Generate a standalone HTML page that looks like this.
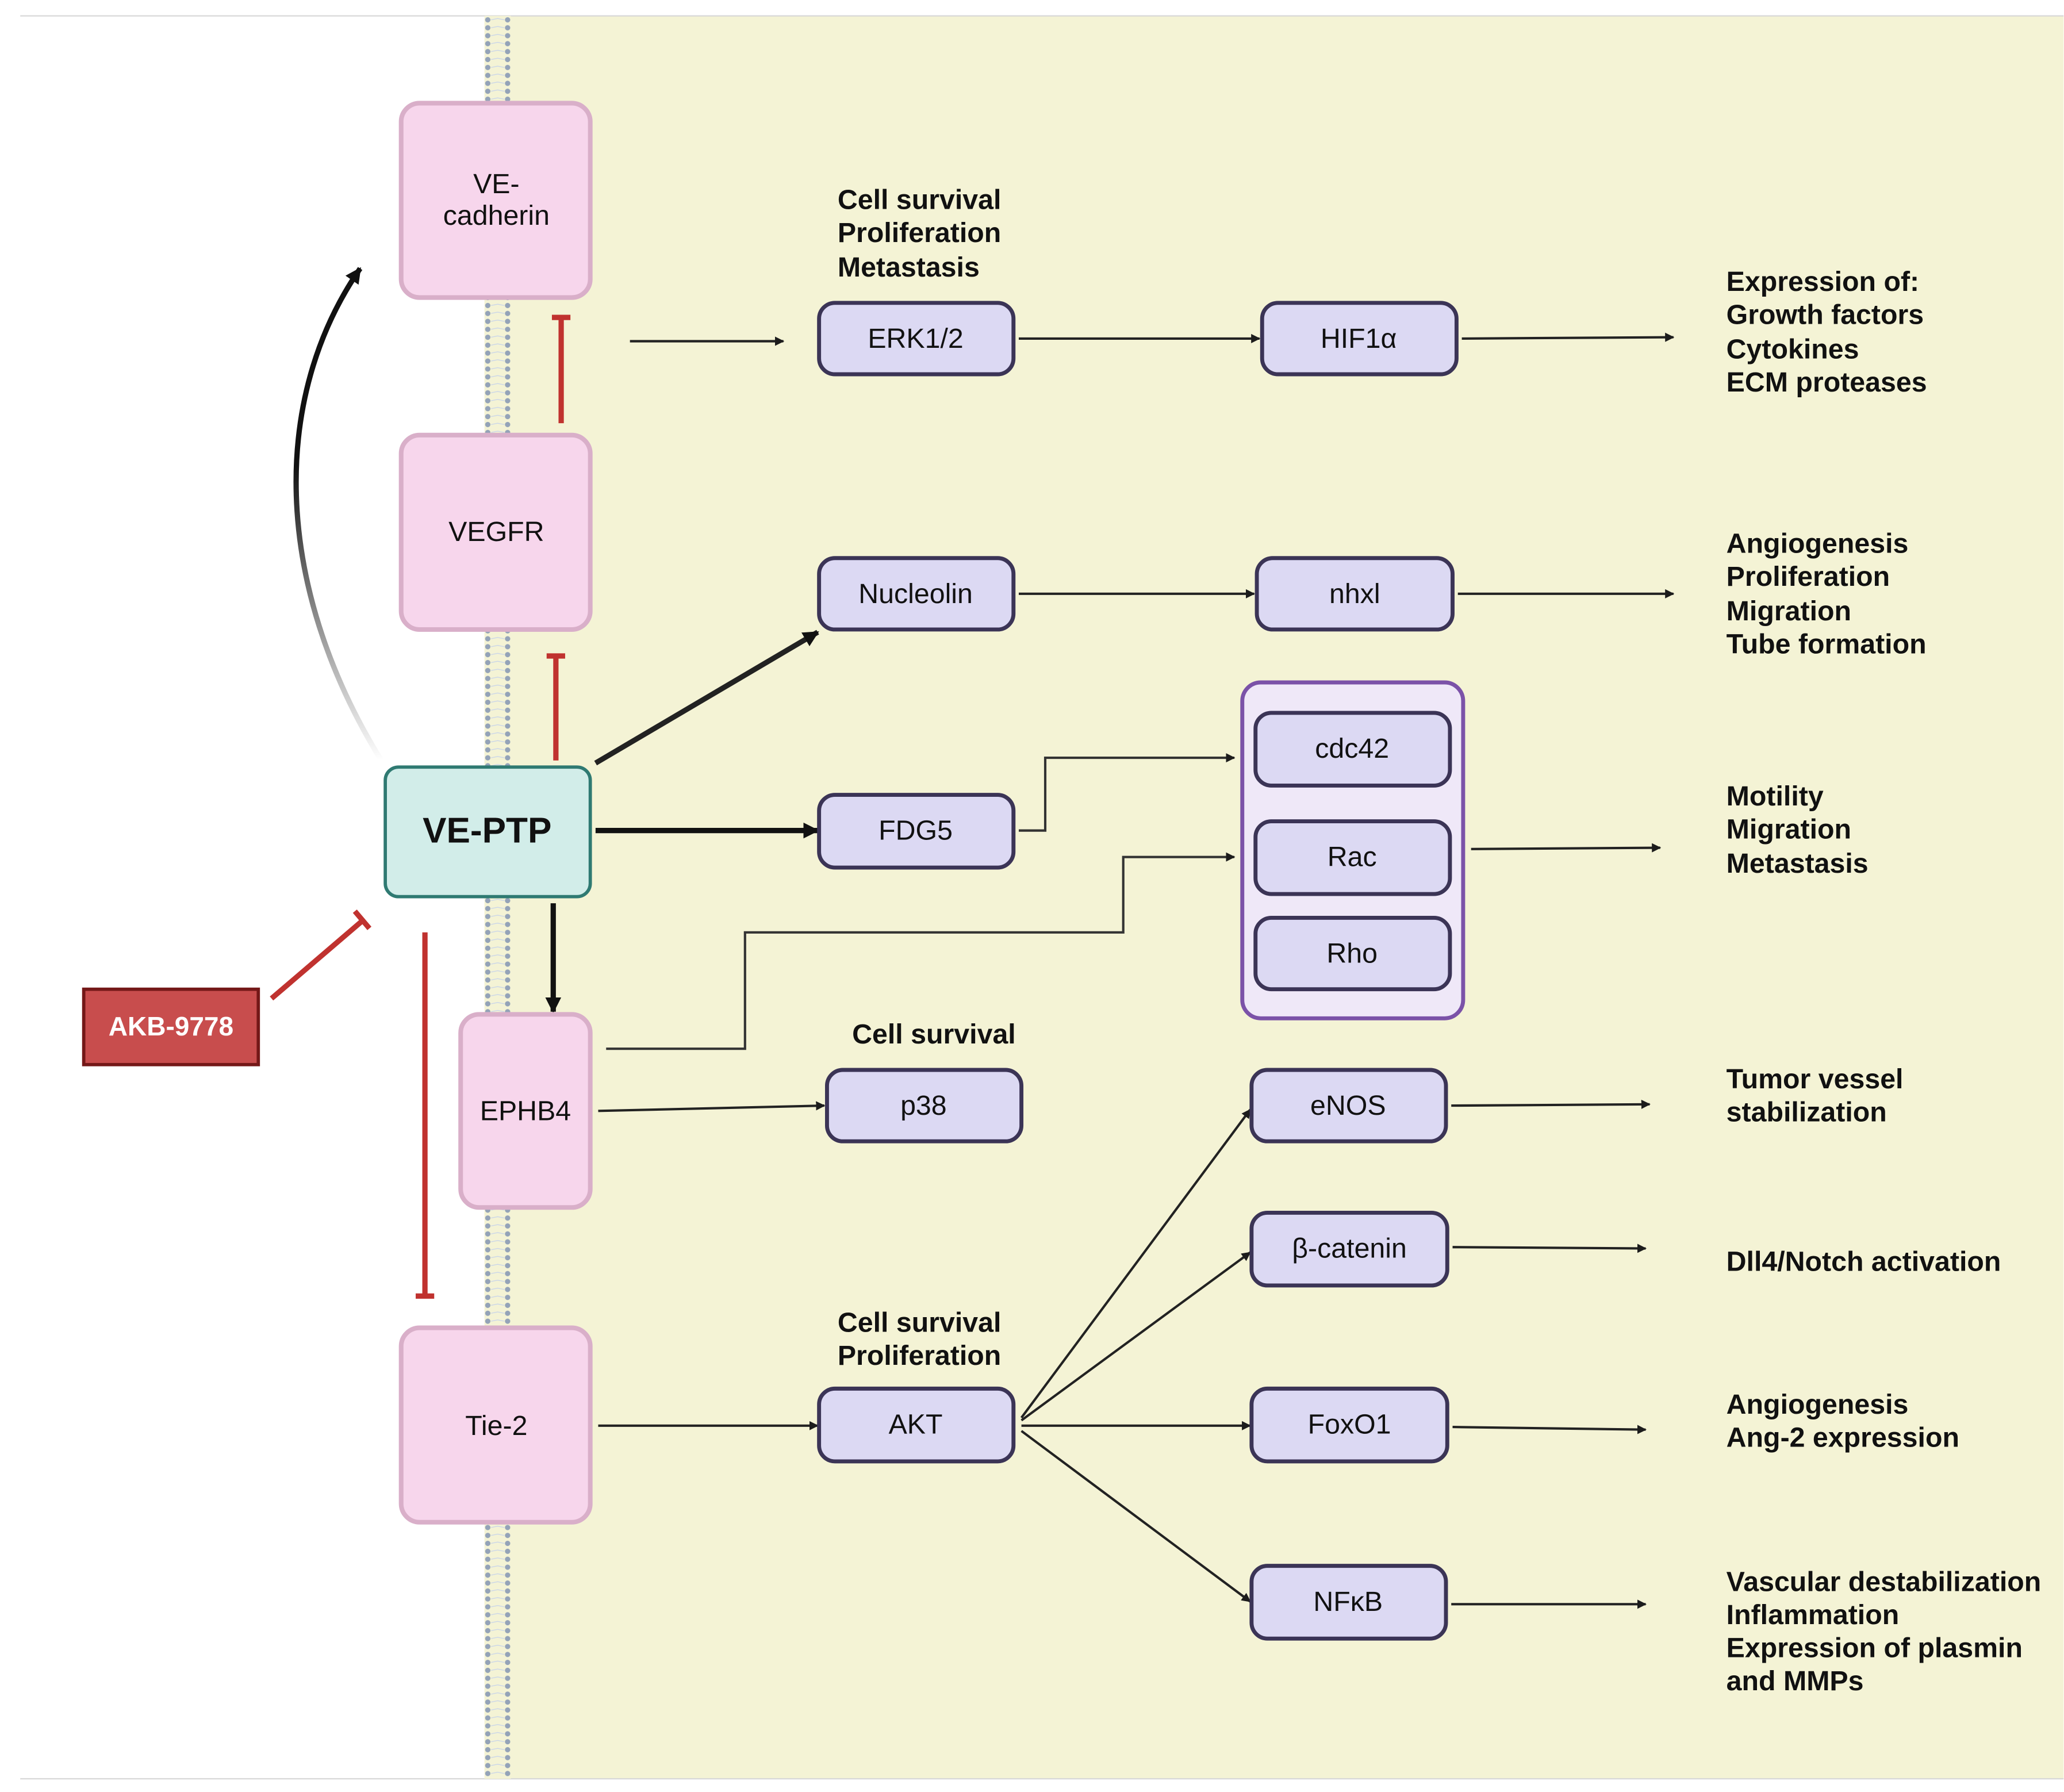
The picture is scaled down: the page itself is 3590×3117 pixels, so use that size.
<!DOCTYPE html>
<html><head><meta charset="utf-8"><style>
html,body{margin:0;padding:0;background:#fff}
svg{display:block}
text{font-family:"Liberation Sans",sans-serif}
</style></head><body>
<svg width="3590" height="3117" viewBox="0 0 1560 1355" xmlns="http://www.w3.org/2000/svg">
<defs>
<marker id="ah" viewBox="0 0 10 10" refX="9" refY="5" markerWidth="7" markerHeight="7" markerUnits="userSpaceOnUse" orient="auto"><path d="M0,0L10,5L0,10z" fill="#1c1c1c"/></marker>
<marker id="ahb" viewBox="0 0 10 10" refX="9" refY="5" markerWidth="12" markerHeight="12" markerUnits="userSpaceOnUse" orient="auto"><path d="M0,0L10,5L0,10z" fill="#111"/></marker>
<pattern id="mem" x="366" y="12" width="20" height="6" patternUnits="userSpaceOnUse">
<rect width="20" height="6" fill="#f4f3d5"/>
<circle cx="2.5" cy="3" r="2" fill="#94a3b8"/><circle cx="17.5" cy="3" r="2" fill="#94a3b8"/>
<path d="M5,3L10,2L15,3" stroke="#c8d4ea" stroke-width="0.6" fill="none"/>
</pattern>
<linearGradient id="gcurve" x1="0" y1="1" x2="0" y2="0"><stop offset="0" stop-color="#111" stop-opacity="0"/><stop offset="0.6" stop-color="#111"/></linearGradient>
</defs>
<rect width="1560" height="1355" fill="#fff"/>
<rect x="385" y="12" width="1175" height="1333" fill="#f4f3d5"/>
<line x1="15" y1="12" x2="1560" y2="12" stroke="#d8d8d8" stroke-width="1"/>
<line x1="15" y1="1345" x2="1560" y2="1345" stroke="#d8d8d8" stroke-width="1"/>
<rect x="366" y="12" width="20" height="1333" fill="url(#mem)"/>

<path d="M288,575 C205,440 205,300 272,203" stroke="url(#gcurve)" stroke-width="4" fill="none" marker-end="url(#ahb)"/>
<line x1="476" y1="258" x2="592" y2="258" stroke="#222" stroke-width="1.8" marker-end="url(#ah)"/>
<line x1="770" y1="256" x2="952" y2="256" stroke="#222" stroke-width="1.8" marker-end="url(#ah)"/>
<line x1="1105" y1="256" x2="1265" y2="255" stroke="#222" stroke-width="1.8" marker-end="url(#ah)"/>
<line x1="770" y1="449" x2="948" y2="449" stroke="#222" stroke-width="1.8" marker-end="url(#ah)"/>
<line x1="1102" y1="449" x2="1265" y2="449" stroke="#222" stroke-width="1.8" marker-end="url(#ah)"/>
<line x1="450" y1="577" x2="618" y2="478" stroke="#222" stroke-width="4" marker-end="url(#ahb)"/>
<line x1="450" y1="628" x2="618" y2="628" stroke="#111" stroke-width="4" marker-end="url(#ahb)"/>
<line x1="418" y1="683" x2="418" y2="765" stroke="#111" stroke-width="4" marker-end="url(#ahb)"/>
<polyline points="770,628 790,628 790,573 933,573" stroke="#333" stroke-width="1.8" fill="none" marker-end="url(#ah)"/>
<polyline points="458,793 563,793 563,705 849,705 849,648 933,648" stroke="#333" stroke-width="1.8" fill="none" marker-end="url(#ah)"/>
<line x1="1112" y1="642" x2="1255" y2="641" stroke="#222" stroke-width="1.8" marker-end="url(#ah)"/>
<line x1="452" y1="840" x2="623" y2="836" stroke="#222" stroke-width="1.8" marker-end="url(#ah)"/>
<line x1="1097" y1="836" x2="1247" y2="835" stroke="#222" stroke-width="1.8" marker-end="url(#ah)"/>
<line x1="1098" y1="943" x2="1244" y2="944" stroke="#222" stroke-width="1.8" marker-end="url(#ah)"/>
<line x1="1098" y1="1079" x2="1244" y2="1081" stroke="#222" stroke-width="1.8" marker-end="url(#ah)"/>
<line x1="1097" y1="1213" x2="1244" y2="1213" stroke="#222" stroke-width="1.8" marker-end="url(#ah)"/>
<line x1="452" y1="1078" x2="618" y2="1078" stroke="#222" stroke-width="1.8" marker-end="url(#ah)"/>
<line x1="772" y1="1072" x2="945" y2="839" stroke="#222" stroke-width="1.8" marker-end="url(#ah)"/>
<line x1="772" y1="1074" x2="945" y2="947" stroke="#222" stroke-width="1.8" marker-end="url(#ah)"/>
<line x1="772" y1="1078" x2="945" y2="1078" stroke="#222" stroke-width="1.8" marker-end="url(#ah)"/>
<line x1="772" y1="1082" x2="945" y2="1211" stroke="#222" stroke-width="1.8" marker-end="url(#ah)"/>

<g stroke="#c0322f" stroke-width="4" fill="none">
<line x1="424" y1="320" x2="424" y2="240"/><line x1="417" y1="240" x2="431" y2="240"/>
<line x1="420" y1="575" x2="420" y2="496"/><line x1="413" y1="496" x2="427" y2="496"/>
<line x1="321" y1="705" x2="321" y2="980"/><line x1="314" y1="980" x2="328" y2="980"/>
<line x1="205" y1="755" x2="274" y2="696"/><line x1="268" y1="689" x2="279" y2="702"/>
</g>

<g fill="#f7d6ec" stroke="#d9afc9" stroke-width="3.5">
<rect x="303" y="78" width="143" height="147" rx="14"/>
<rect x="303" y="329" width="143" height="147" rx="14"/>
<rect x="348" y="767" width="98" height="146" rx="14"/>
<rect x="303" y="1004" width="143" height="147" rx="14"/>
</g>
<rect x="291" y="580" width="155" height="98" rx="10" fill="#d2ede9" stroke="#2f7a72" stroke-width="2.5"/>
<rect x="63" y="748" width="132" height="57" fill="#c84d4d" stroke="#741818" stroke-width="2.5"/>

<rect x="939" y="516" width="167" height="254" rx="14" fill="#efe8f8" stroke="#7b52a8" stroke-width="3"/>
<g fill="#dcd9f3" stroke="#3b3456" stroke-width="3">
<rect x="619" y="229" width="147" height="54" rx="12"/>
<rect x="954" y="229" width="147" height="54" rx="12"/>
<rect x="619" y="422" width="147" height="54" rx="12"/>
<rect x="950" y="422" width="148" height="54" rx="12"/>
<rect x="949" y="539" width="147" height="55" rx="12"/>
<rect x="949" y="621" width="147" height="55" rx="12"/>
<rect x="949" y="694" width="147" height="54" rx="12"/>
<rect x="619" y="601" width="147" height="55" rx="12"/>
<rect x="625" y="809" width="147" height="54" rx="12"/>
<rect x="946" y="809" width="147" height="54" rx="12"/>
<rect x="946" y="917" width="148" height="55" rx="12"/>
<rect x="619" y="1050" width="147" height="55" rx="12"/>
<rect x="946" y="1050" width="148" height="55" rx="12"/>
<rect x="946" y="1184" width="147" height="55" rx="12"/>
</g>

<g font-size="21" text-anchor="middle" fill="#111">
<text x="375" y="146">VE-</text><text x="375" y="170">cadherin</text>
<text x="375" y="409">VEGFR</text>
<text x="397" y="847">EPHB4</text>
<text x="375" y="1085">Tie-2</text>
<text x="692" y="263">ERK1/2</text>
<text x="1027" y="263">HIF1α</text>
<text x="692" y="456">Nucleolin</text>
<text x="1024" y="456">nhxl</text>
<text x="1022" y="573">cdc42</text>
<text x="1022" y="655">Rac</text>
<text x="1022" y="728">Rho</text>
<text x="692" y="635">FDG5</text>
<text x="698" y="843">p38</text>
<text x="1019" y="843">eNOS</text>
<text x="1020" y="951">β-catenin</text>
<text x="692" y="1084">AKT</text>
<text x="1020" y="1084">FoxO1</text>
<text x="1019" y="1218">NFκB</text>
</g>
<text x="368" y="637" font-size="27" font-weight="bold" text-anchor="middle" fill="#111">VE-PTP</text>
<text x="129" y="783" font-size="20" font-weight="bold" text-anchor="middle" fill="#fff">AKB-9778</text>

<g font-size="21" font-weight="bold" fill="#111">
<text x="633" y="158">Cell survival</text><text x="633" y="183">Proliferation</text><text x="633" y="209">Metastasis</text>
<text x="644" y="789">Cell survival</text>
<text x="633" y="1007">Cell survival</text><text x="633" y="1032">Proliferation</text>
<text x="1305" y="220">Expression of:</text><text x="1305" y="245">Growth factors</text><text x="1305" y="271">Cytokines</text><text x="1305" y="296">ECM proteases</text>
<text x="1305" y="418">Angiogenesis</text><text x="1305" y="443">Proliferation</text><text x="1305" y="469">Migration</text><text x="1305" y="494">Tube formation</text>
<text x="1305" y="609">Motility</text><text x="1305" y="634">Migration</text><text x="1305" y="660">Metastasis</text>
<text x="1305" y="823">Tumor vessel</text><text x="1305" y="848">stabilization</text>
<text x="1305" y="961">Dll4/Notch activation</text>
<text x="1305" y="1069">Angiogenesis</text><text x="1305" y="1094">Ang-2 expression</text>
<text x="1305" y="1203">Vascular destabilization</text><text x="1305" y="1228">Inflammation</text><text x="1305" y="1253">Expression of plasmin</text><text x="1305" y="1278">and MMPs</text>
</g>
</svg>
</body></html>
